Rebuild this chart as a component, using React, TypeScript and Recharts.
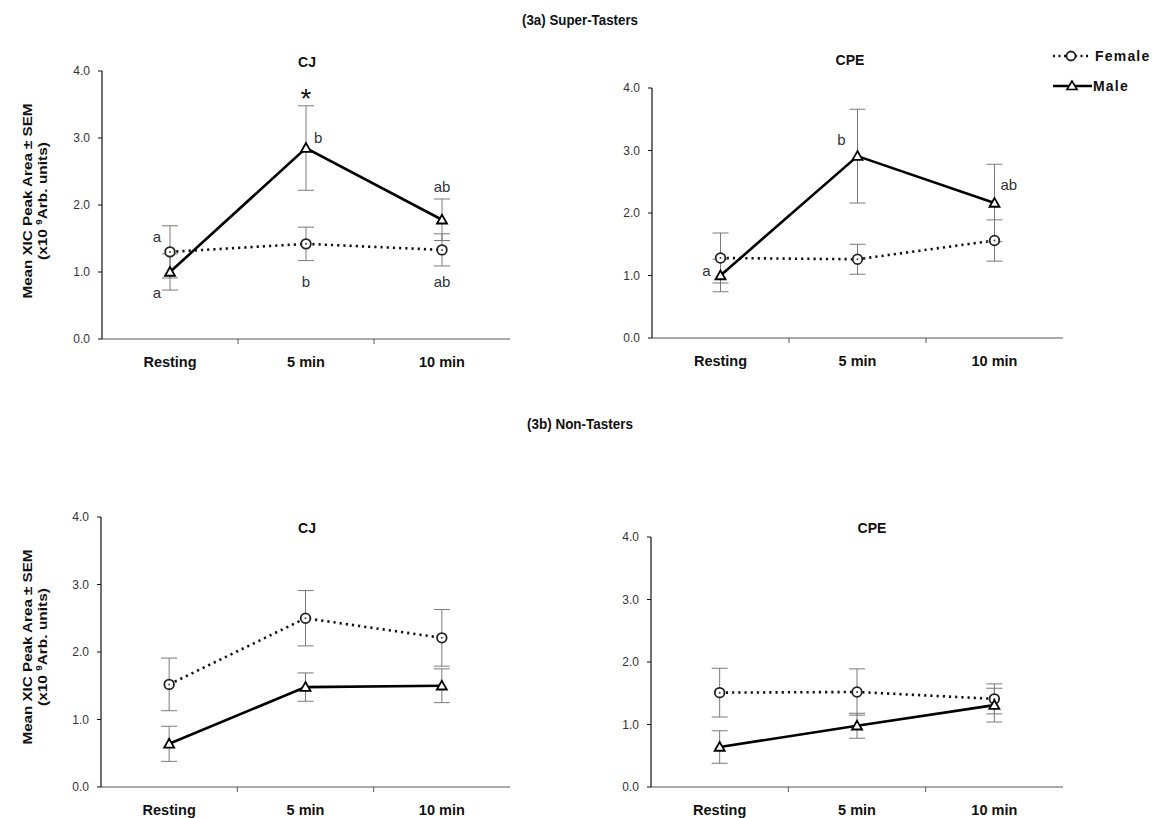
import React from 'react';
import { LineChart, Line, XAxis, YAxis, ErrorBar, ReferenceDot } from 'recharts';

const categories = ['Resting', '5 min', '10 min'];
const yTicks = [0, 1, 2, 3, 4];

// (3a) Super-Tasters
const superCjFemale = [1.3, 1.42, 1.33];
const superCjFemaleSem = [0.39, 0.25, 0.24];
const superCjMale = [1.0, 2.85, 1.78];
const superCjMaleSem = [0.27, 0.63, 0.31];

const superCpeFemale = [1.28, 1.26, 1.56];
const superCpeFemaleSem = [0.4, 0.24, 0.33];
const superCpeMale = [1.0, 2.91, 2.16];
const superCpeMaleSem = [0.26, 0.75, 0.62];

// (3b) Non-Tasters
const nonCjFemale = [1.52, 2.5, 2.21];
const nonCjFemaleSem = [0.39, 0.41, 0.42];
const nonCjMale = [0.64, 1.48, 1.5];
const nonCjMaleSem = [0.26, 0.21, 0.25];

const nonCpeFemale = [1.51, 1.52, 1.41];
const nonCpeFemaleSem = [0.39, 0.37, 0.24];
const nonCpeMale = [0.64, 0.98, 1.31];
const nonCpeMaleSem = [0.26, 0.2, 0.27];

type Note = { cat: number; y: number; text: string; pos: 'left' | 'right' | 'center'; offset?: number; big?: boolean };

const superCjNotes: Note[] = [
  { cat: 0, y: 1.52, text: 'a', pos: 'left', offset: 9 },
  { cat: 0, y: 0.69, text: 'a', pos: 'left', offset: 9 },
  { cat: 1, y: 3.6, text: '*', pos: 'center', big: true },
  { cat: 1, y: 3.01, text: 'b', pos: 'right', offset: 8 },
  { cat: 1, y: 0.85, text: 'b', pos: 'center' },
  { cat: 2, y: 2.28, text: 'ab', pos: 'center' },
  { cat: 2, y: 0.85, text: 'ab', pos: 'center' },
];

const superCpeNotes: Note[] = [
  { cat: 0, y: 1.07, text: 'a', pos: 'left', offset: 10 },
  { cat: 1, y: 3.18, text: 'b', pos: 'left', offset: 12 },
  { cat: 2, y: 2.45, text: 'ab', pos: 'right', offset: 6 },
];

const FONT = '"Liberation Sans", Arial, sans-serif';

function buildRows(female: number[], femaleSem: number[], male: number[], maleSem: number[]) {
  return categories.map((name, i) => ({
    name,
    slot: i + 0.5,
    female: female[i],
    femaleSem: femaleSem[i],
    male: male[i],
    maleSem: maleSem[i],
  }));
}

function XTick(props: any) {
  const { x, y, payload } = props;
  const v = payload.value;
  if (Number.isInteger(v)) {
    return <line x1={x} x2={x} y1={y - 7} y2={y - 2} stroke="#555" strokeWidth={1} />;
  }
  return (
    <text x={x} y={y + 21} textAnchor="middle" fontFamily={FONT} fontWeight="bold" fontSize={14.5} fill="#111">
      {categories[Math.floor(v)]}
    </text>
  );
}

function CircleDot(props: any) {
  const { cx, cy, key } = props;
  if (cx == null || cy == null) return null;
  return (
    <g key={key}>
      <circle cx={cx} cy={cy} r={4.8} fill="#fff" stroke="#222" strokeWidth={1.8} />
      <circle cx={cx} cy={cy} r={1} fill="#444" />
    </g>
  );
}

function TriangleDot(props: any) {
  const { cx, cy, key } = props;
  if (cx == null || cy == null) return null;
  const s = 5;
  return (
    <polygon
      key={key}
      points={`${cx},${cy - s} ${cx - s},${cy + s * 0.75} ${cx + s},${cy + s * 0.75}`}
      fill="#fff"
      stroke="#000"
      strokeWidth={1.8}
      strokeLinejoin="miter"
    />
  );
}

interface PanelProps {
  left: number;
  top: number;
  width: number;
  height: number;
  marginLeft: number;
  marginTop: number;
  xHeight: number;
  rows: ReturnType<typeof buildRows>;
  notes?: Note[];
}

function Panel({ left, top, width, height, marginLeft, marginTop, xHeight, rows, notes = [] }: PanelProps) {
  return (
    <div style={{ position: 'absolute', left, top }}>
      <LineChart
        width={width}
        height={height}
        data={rows}
        margin={{ top: marginTop, right: 20, left: marginLeft, bottom: 0 }}
      >
        <XAxis
          type="number"
          dataKey="slot"
          domain={[0, 3]}
          ticks={[0.5, 1, 1.5, 2, 2.5]}
          interval={0}
          tickLine={false}
          tickSize={5}
          tickMargin={2}
          height={xHeight}
          axisLine={{ stroke: '#555', strokeWidth: 1.2 }}
          tick={<XTick />}
        />
        <YAxis
          domain={[0, 4]}
          ticks={yTicks}
          width={40}
          tickSize={4}
          tickMargin={8}
          tickFormatter={(v: number) => v.toFixed(1)}
          tick={{ fontSize: 12, fill: '#333', fontFamily: FONT }}
          axisLine={{ stroke: '#111', strokeWidth: 1.2 }}
          tickLine={{ stroke: '#111' }}
        />
        <Line
          dataKey="female"
          stroke="#111"
          strokeWidth={2.6}
          strokeDasharray="2.2 4"
          dot={<CircleDot />}
          activeDot={false}
          isAnimationActive={false}
        >
          <ErrorBar dataKey="femaleSem" direction="y" width={8} stroke="#7a7a7a" strokeWidth={1} />
        </Line>
        <Line
          dataKey="male"
          stroke="#000"
          strokeWidth={2.6}
          dot={<TriangleDot />}
          activeDot={false}
          isAnimationActive={false}
        >
          <ErrorBar dataKey="maleSem" direction="y" width={8} stroke="#7a7a7a" strokeWidth={1} />
        </Line>
        {notes.map((n, i) => (
          <ReferenceDot
            key={i}
            x={n.cat + 0.5}
            y={n.y}
            r={0}
            fill="none"
            stroke="none"
            label={{
              value: n.text,
              position: n.pos,
              offset: n.offset ?? 0,
              fontSize: n.big ? 28 : 15,
              fill: n.big ? '#111' : '#333',
              fontFamily: FONT,
            }}
          />
        ))}
      </LineChart>
    </div>
  );
}

function YLabel({ cy }: { cy: number }) {
  return (
    <g fontFamily={FONT} fontWeight="bold" fill="#111" textAnchor="middle">
      <text
        transform={`translate(32,${cy}) rotate(-90)`}
        fontSize={13.5}
        textLength={195}
        lengthAdjust="spacingAndGlyphs"
      >
        Mean XIC Peak Area ± SEM
      </text>
      <text
        transform={`translate(47,${cy}) rotate(-90)`}
        fontSize={13.5}
        textLength={118}
        lengthAdjust="spacingAndGlyphs"
      >
        (x10 <tspan fontSize={8.5} dy={-5}>9</tspan>
        <tspan dy={5}>Arb. units)</tspan>
      </text>
    </g>
  );
}

export default function App() {
  return (
    <div
      style={{
        position: 'absolute',
        left: 0,
        top: 0,
        width: 1159,
        height: 818,
        overflow: 'hidden',
        background: '#fff',
        fontFamily: FONT,
      }}
    >
      <Panel
        left={0}
        top={0}
        width={530}
        height={380}
        marginLeft={62}
        marginTop={71}
        xHeight={41}
        rows={buildRows(superCjFemale, superCjFemaleSem, superCjMale, superCjMaleSem)}
        notes={superCjNotes}
      />
      <Panel
        left={560}
        top={0}
        width={523}
        height={379}
        marginLeft={52}
        marginTop={88}
        xHeight={41}
        rows={buildRows(superCpeFemale, superCpeFemaleSem, superCpeMale, superCpeMaleSem)}
        notes={superCpeNotes}
      />
      <Panel
        left={0}
        top={400}
        width={530}
        height={418}
        marginLeft={61}
        marginTop={117}
        xHeight={31}
        rows={buildRows(nonCjFemale, nonCjFemaleSem, nonCjMale, nonCjMaleSem)}
      />
      <Panel
        left={560}
        top={400}
        width={523}
        height={418}
        marginLeft={51}
        marginTop={137}
        xHeight={31}
        rows={buildRows(nonCpeFemale, nonCpeFemaleSem, nonCpeMale, nonCpeMaleSem)}
      />
      <svg
        width={1159}
        height={818}
        style={{ position: 'absolute', left: 0, top: 0, pointerEvents: 'none' }}
      >
        <g fontFamily={FONT} fontWeight="bold" fill="#111">
          <text x={580} y={25} textAnchor="middle" fontSize={15.5} textLength={116} lengthAdjust="spacingAndGlyphs">
            (3a) Super-Tasters
          </text>
          <text x={580} y={429} textAnchor="middle" fontSize={15.5} textLength={106} lengthAdjust="spacingAndGlyphs">
            (3b) Non-Tasters
          </text>
          <text x={307} y={67} textAnchor="middle" fontSize={14}>CJ</text>
          <text x={850} y={65} textAnchor="middle" fontSize={14}>CPE</text>
          <text x={307} y={533} textAnchor="middle" fontSize={14}>CJ</text>
          <text x={872} y={533} textAnchor="middle" fontSize={14}>CPE</text>
        </g>
        <YLabel cy={201} />
        <YLabel cy={647} />
        {/* legend */}
        <g>
          <line x1={1053} x2={1090} y1={56} y2={56} stroke="#111" strokeWidth={2.4} strokeDasharray="2 3.5" />
          <circle cx={1071} cy={56} r={4.5} fill="#fff" stroke="#222" strokeWidth={1.8} />
          <text x={1095} y={61} fontFamily={FONT} fontWeight="bold" fontSize={14} letterSpacing={1.2} fill="#111">
            Female
          </text>
          <line x1={1053} x2={1092} y1={86} y2={86} stroke="#000" strokeWidth={2.4} />
          <polygon points="1072,81 1067,89.5 1077,89.5" fill="#fff" stroke="#000" strokeWidth={1.6} />
          <text x={1093} y={91} fontFamily={FONT} fontWeight="bold" fontSize={14} letterSpacing={1.2} fill="#111">
            Male
          </text>
        </g>
      </svg>
    </div>
  );
}
